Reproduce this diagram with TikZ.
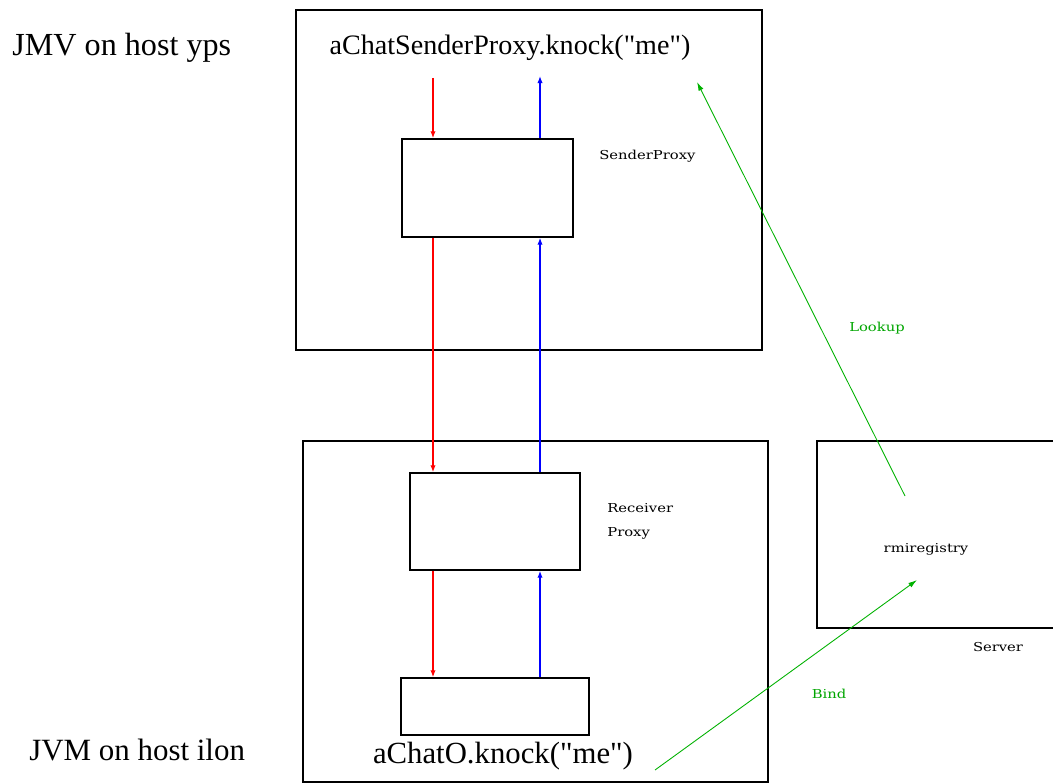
\documentclass[tikz,border=0pt]{standalone}
\usepackage{fontspec}
\setmainfont{Liberation Serif}
\newfontfamily\bigfont{Liberation Serif}
\newfontfamily\labfont[FakeStretch=1.2]{DejaVu Serif}
\usetikzlibrary{arrows.meta}
\begin{document}
\begin{tikzpicture}[x=0.02cm,y=-0.02cm,
  box/.style={draw=black,line width=0.8pt,inner sep=0pt,rectangle},
  big/.style={inner sep=0pt},
  small/.style={font=\labfont\fontsize{7}{13.6}\selectfont,inner sep=0pt,align=left},
  req/.style={draw=red,line width=0.7pt,-{Latex[length=4pt,width=3pt]}},
  rep/.style={draw=blue,line width=0.7pt,-{Latex[length=4pt,width=3pt]}},
  reg/.style={draw=green!70!black,line width=0.5pt,-{Latex[length=5pt,width=3pt]}},
  lbl/.style={font=\labfont\fontsize{7}{9}\selectfont,text=green!65!black,inner sep=0pt}]
\useasboundingbox (0,0) rectangle (1053,783);
\fill[white] (0,0) rectangle (1053,783);
% outer boxes
\node[box,minimum width=9.32cm,minimum height=6.8cm] (jvm1) at (529,180) {};
\node[box,minimum width=9.3cm,minimum height=6.82cm] (jvm2) at (535.5,611.5) {};
\node[box,minimum width=4.86cm,minimum height=3.74cm] (server) at (938.5,534.5) {};
% inner boxes
\node[box,minimum width=3.42cm,minimum height=1.96cm] (sp) at (487.5,188) {};
\node[box,minimum width=3.4cm,minimum height=1.94cm] (rp) at (495,521.5) {};
\node[box,minimum width=3.76cm,minimum height=1.14cm] (obj) at (495,706.5) {};
% texts
\node[big,anchor=west,font=\bigfont\fontsize{18.3}{20}\selectfont] (jmv) at (12,48) {JMV on host yps};
\node[big,font=\bigfont\fontsize{16}{18}\selectfont] (call1) at (510,48) {aChatSenderProxy.knock("me")};
\node[big,anchor=west,font=\bigfont\fontsize{17.6}{20}\selectfont] (jvm) at (29,750) {JVM on host ilon};
\node[big,font=\bigfont\fontsize{17.5}{20}\selectfont] (call2) at (503,756) {aChatO.knock("me")};
\node[small,anchor=west] (splab) at (599,156) {SenderProxy};
\node[small,anchor=north west] (rplab) at (607,503) {Receiver\\Proxy};
\node[small] (rmi) at (926,549) {rmiregistry};
\node[small] (srv) at (998,647) {Server};
\node[lbl] (bind) at (829,694) {Bind};
\node[lbl] (look) at (877,328) {Lookup};
% flows
\coordinate (rx) at (433,0);
\coordinate (bx) at (540,0);
\coordinate (r0) at (433,78);
\coordinate (b0) at (540,76);
\draw[req] (r0) -- (sp.north -| rx);
\draw[req] (sp.south -| rx) -- (rp.north -| rx);
\draw[req] (rp.south -| rx) -- (obj.north -| rx);
\draw[rep] (sp.north -| bx) -- (b0);
\draw[rep] (rp.north -| bx) -- (sp.south -| bx);
\draw[rep] (obj.north -| bx) -- (rp.south -| bx);
% green
\coordinate (lkS) at (905,496); \coordinate (lkE) at (697,82);
\coordinate (bdS) at (655,770); \coordinate (bdE) at (917,580);
\draw[reg] (lkS) -- (lkE);
\draw[reg] (bdS) -- (bdE);
\end{tikzpicture}
\end{document}
